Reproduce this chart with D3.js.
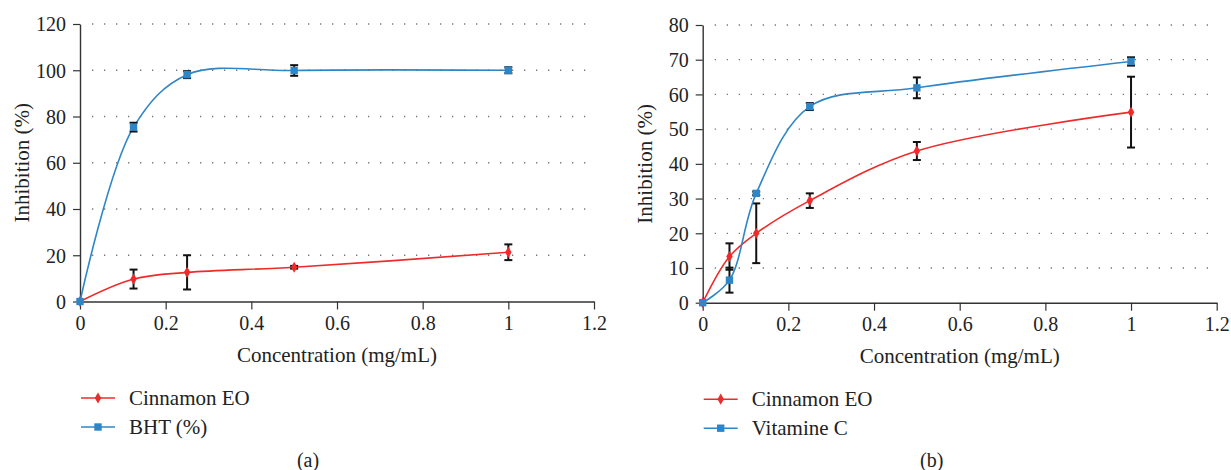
<!DOCTYPE html>
<html>
<head>
<meta charset="utf-8">
<script src="https://cdn.jsdelivr.net/npm/d3@7"></script>
<style>
  body { margin: 0; background: #fff; }
</style>
</head>
<body>
<svg id="canvas" width="1231" height="470" font-family="Liberation Serif"></svg>
<script>
// panel (a)
var concA = [0, 0.125, 0.25, 0.5, 1];
var cinnamonA = [0, 9.7, 12.6, 14.8, 21.3];
var cinnamonErrA = [0, 4.1, 7.4, 0.6, 3.4];
var bhtA = [0, 75.4, 98.1, 99.9, 100];
var bhtErrA = [0, 1.9, 1.5, 2.3, 1.3];
var yTicksA = [0, 20, 40, 60, 80, 100, 120];

// panel (b)
var concB = [0, 0.0625, 0.125, 0.25, 0.5, 1];
var cinnamonB = [0, 13.3, 20.0, 29.4, 43.7, 54.9];
var cinnamonErrB = [0, 3.8, 8.6, 2.1, 2.6, 10.2];
var vitcB = [0, 6.5, 31.5, 56.5, 61.9, 69.5];
var vitcErrB = [0, 3.6, 0.5, 1.0, 3.0, 1.2];
var yTicksB = [0, 10, 20, 30, 40, 50, 60, 70, 80];

var xTicks = [0, 0.2, 0.4, 0.6, 0.8, 1, 1.2];

var RED = '#ee2b2b', BLUE = '#2f86c6', FONT = 'Liberation Serif';

var svg = d3.select('#canvas');

function drawPanel(opts) {
    var g = svg.append('g'),
        x = d3.scaleLinear().domain([0, 1.2]).range([opts.left, opts.left + 514]),
        y = d3.scaleLinear().domain([0, opts.yMax]).range([opts.bottom, opts.top]);

    // dotted grid
    g.selectAll('.grid').data(opts.yTicks.filter(function(t) { return t > 0; }))
        .enter().append('line')
            .attr('x1', x(0) + 12).attr('x2', x(1.2) - 4)
            .attr('y1', y).attr('y2', y)
            .attr('stroke', '#777')
            .attr('stroke-width', 1.3)
            .attr('stroke-dasharray', '1.3,10.7');

    // axes
    var xAxis = d3.axisBottom(x).tickValues(xTicks).tickSize(8).tickSizeOuter(0)
            .tickFormat(function(d) { return d3.format('')(d); }),
        yAxis = d3.axisLeft(y).tickValues(opts.yTicks).tickSize(7).tickSizeOuter(0);

    var gx = g.append('g').attr('transform', 'translate(0,' + opts.bottom + ')').call(xAxis),
        gy = g.append('g').attr('transform', 'translate(' + opts.left + ',0)').call(yAxis);
    [gx, gy].forEach(function(a) {
        a.attr('font-family', null).attr('font-size', null);
        a.select('.domain').attr('stroke', '#333').attr('stroke-width', 1.4);
        a.selectAll('.tick line').attr('stroke', '#333').attr('stroke-width', 1.2);
        a.selectAll('.tick text').attr('fill', '#222')
            .attr('font-family', FONT).attr('font-size', 20);
    });
    gx.selectAll('.tick text').attr('dy', '0.9em').attr('y', 10);
    gy.selectAll('.tick text').attr('x', -14).attr('dy', '0.34em');

    // axis titles
    g.append('text')
        .attr('x', opts.left + 257).attr('y', opts.bottom + 60)
        .attr('text-anchor', 'middle').attr('font-family', FONT).attr('font-size', 21).attr('fill', '#222')
        .text('Concentration (mg/mL)');
    g.append('text')
        .attr('transform', 'translate(' + (opts.left - 51) + ',' + ((opts.top + opts.bottom) / 2) + ') rotate(-90)')
        .attr('text-anchor', 'middle').attr('font-family', FONT).attr('font-size', 21).attr('fill', '#222')
        .text('Inhibition (%)');

    // series
    var line = d3.line()
        .x(function(d) { return x(d.x); })
        .y(function(d) { return y(d.y); })
        .curve(d3.curveCatmullRom.alpha(0.5));

    opts.series.forEach(function(s) {
        var pts = opts.conc.map(function(c, i) { return { x: c, y: s.values[i], e: s.err[i] }; });
        g.append('path').datum(pts)
            .attr('d', line)
            .attr('fill', 'none')
            .attr('stroke', s.color)
            .attr('stroke-width', 1.6);

        var eb = g.selectAll(null).data(pts.filter(function(d) { return d.e > 0; })).enter().append('g')
            .attr('stroke', '#111').attr('stroke-width', 2);
        eb.append('line')
            .attr('x1', function(d) { return x(d.x); }).attr('x2', function(d) { return x(d.x); })
            .attr('y1', function(d) { return y(d.y + d.e); }).attr('y2', function(d) { return y(d.y - d.e); });
        [1, -1].forEach(function(sign) {
            eb.append('line')
                .attr('x1', function(d) { return x(d.x) - 4; }).attr('x2', function(d) { return x(d.x) + 4; })
                .attr('y1', function(d) { return y(d.y + sign * d.e); })
                .attr('y2', function(d) { return y(d.y + sign * d.e); });
        });

        g.selectAll(null).data(pts).enter().append('path')
            .attr('transform', function(d) { return 'translate(' + x(d.x) + ',' + y(d.y) + ')'; })
            .attr('d', s.marker)
            .attr('fill', s.color);
    });

    // legend
    opts.series.forEach(function(s, i) {
        var ly = opts.bottom + 96.5 + i * 29,
            lx = opts.left + 1;
        g.append('line')
            .attr('x1', lx).attr('x2', lx + 34)
            .attr('y1', ly).attr('y2', ly)
            .attr('stroke', s.color).attr('stroke-width', 1.6);
        g.append('path')
            .attr('transform', 'translate(' + (lx + 17) + ',' + ly + ')')
            .attr('d', s.marker).attr('fill', s.color);
        g.append('text')
            .attr('x', lx + 48).attr('y', ly + 7)
            .attr('font-family', FONT).attr('font-size', 21).attr('fill', '#222')
            .text(s.name);
    });

    // panel label
    g.append('text')
        .attr('x', opts.left + opts.labelX).attr('y', 467)
        .attr('text-anchor', 'middle').attr('font-family', FONT).attr('font-size', 20).attr('fill', '#222')
        .text(opts.label);
}

var diamond = d3.symbol().type(d3.symbolDiamond).size(36)(),
    square = 'M-3.7,-3.7H3.7V3.7H-3.7Z';

drawPanel({
    left: 80, top: 24, bottom: 301.5, yMax: 120, yTicks: yTicksA,
    conc: concA, label: '(a)', labelX: 228,
    series: [
        { name: 'Cinnamon EO', values: cinnamonA, err: cinnamonErrA, color: RED, marker: diamond },
        { name: 'BHT (%)', values: bhtA, err: bhtErrA, color: BLUE, marker: square }
    ]
});

drawPanel({
    left: 702.7, top: 25, bottom: 302.7, yMax: 80, yTicks: yTicksB,
    conc: concB, label: '(b)', labelX: 229,
    series: [
        { name: 'Cinnamon EO', values: cinnamonB, err: cinnamonErrB, color: RED, marker: diamond },
        { name: 'Vitamine C', values: vitcB, err: vitcErrB, color: BLUE, marker: square }
    ]
});
</script>
</body>
</html>
